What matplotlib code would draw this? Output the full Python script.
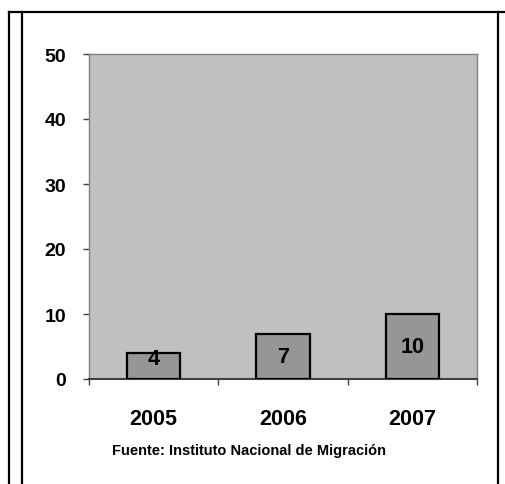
import matplotlib.pyplot as plt
from matplotlib.lines import Line2D

years = ['2005', '2006', '2007']
values = [4, 7, 10]
yticks = [0, 10, 20, 30, 40, 50]
source = 'Fuente: Instituto Nacional de Migración'

plt.rcParams['font.family'] = ['Liberation Sans', 'DejaVu Sans']
plt.rcParams['font.weight'] = 'bold'

W, H = 506, 485
fig = plt.figure(figsize=(W / 100, H / 100), dpi=100)
ax = fig.add_axes([89 / W, 105 / H, 388 / W, 325 / H])

x = range(len(years))
bars = ax.bar(x, values, width=0.41, color='#969696', edgecolor='black', linewidth=1.6, zorder=3)
for b, v in zip(bars, values):
    ax.text(b.get_x() + b.get_width() / 2, max(v / 2, 3.1), str(v),
            ha='center', va='center', fontsize=15.5, fontweight='bold', zorder=4)

ax.set_facecolor('#c0c0c0')
ax.set_xlim(-0.5, len(years) - 0.5)
ax.set_ylim(0, 50)
ax.set_yticks(yticks)
ax.set_yticklabels([str(t) for t in yticks], fontsize=14, fontweight='bold')
ax.tick_params(axis='y', length=4.5, width=1, color='#404040', pad=12)

ax.set_xticks([i - 0.5 for i in range(len(years) + 1)])
ax.set_xticklabels([])
ax.set_xticks(list(x), minor=True)
ax.set_xticklabels(years, minor=True, fontsize=15.5, fontweight='bold')
ax.tick_params(axis='x', which='major', length=4.5, width=1, color='#404040')
ax.tick_params(axis='x', which='minor', length=0, pad=21)

for side in ['top', 'right', 'left']:
    ax.spines[side].set_color('#808080')
    ax.spines[side].set_linewidth(1)
ax.spines['bottom'].set_color('#404040')
ax.spines['bottom'].set_linewidth(1.5)

fig.text(112 / W, 1 - 451 / H, source, ha='left', va='center', fontsize=10.5, fontweight='bold')

# outer frame
def px_line(xs, ys):
    fig.add_artist(Line2D([v / W for v in xs], [1 - v / H for v in ys],
                          color='black', linewidth=1.6, transform=fig.transFigure))

px_line([9, W], [13, 13])
px_line([9, 9], [13, H])
px_line([22, 22], [13, H])
px_line([498, 498], [13, H])

fig.savefig('out.png', dpi=100)
